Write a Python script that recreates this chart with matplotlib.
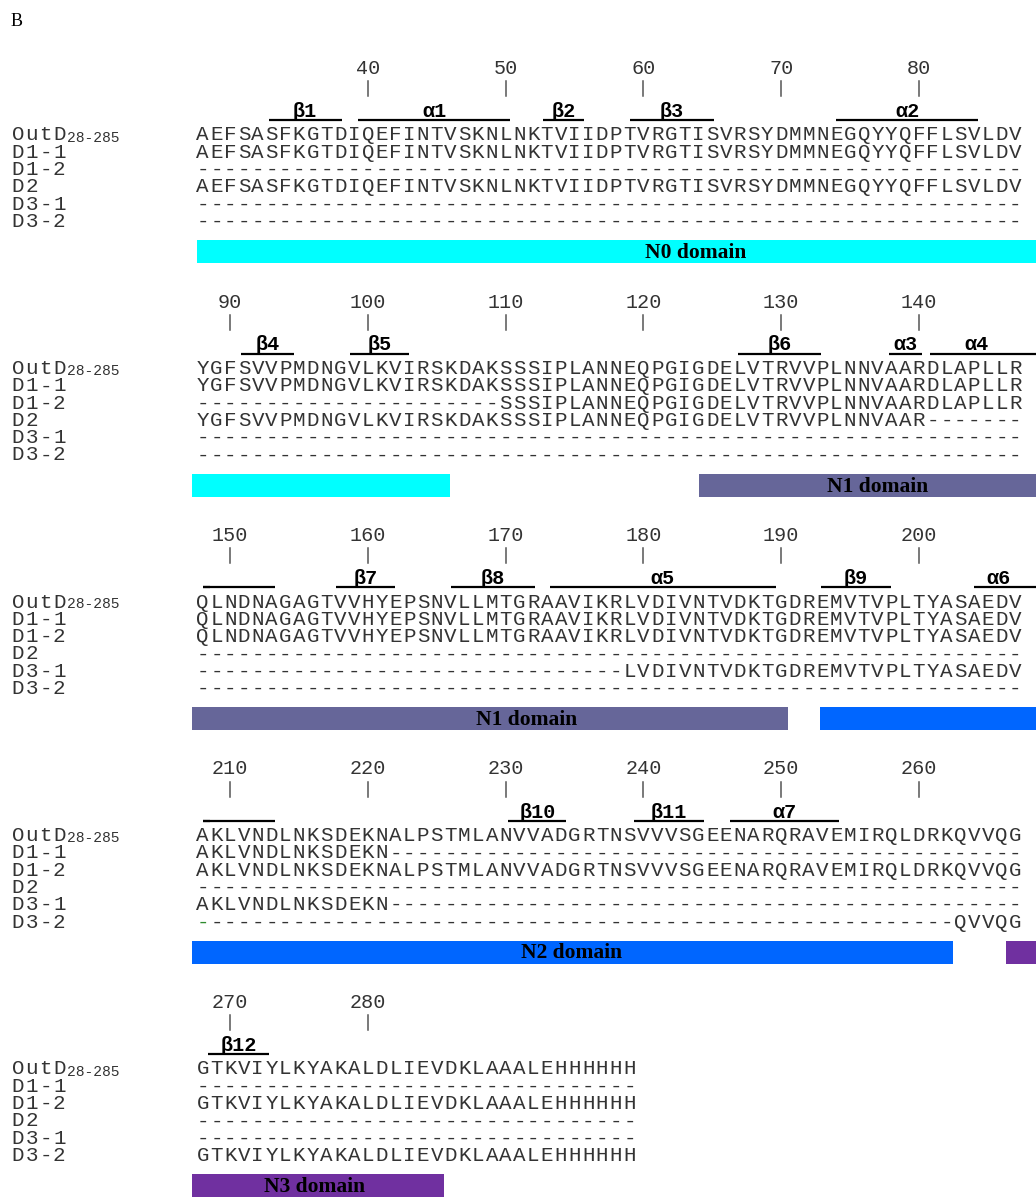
import matplotlib
matplotlib.use("Agg")
import matplotlib.pyplot as plt
from matplotlib.patches import Rectangle

# alignment data, one string of 60 (last block 32) columns per block
block_starts = [28, 88, 148, 208, 268]
row_names = ["OutD", "D1-1", "D1-2", "D2", "D3-1", "D3-2"]
tick_numbers = [40, 50, 60, 70, 80, 90, 100, 110, 120, 130, 140, 150, 160, 170,
                180, 190, 200, 210, 220, 230, 240, 250, 260, 270, 280]

outd = [
    "AEFSASFKGTDIQEFINTVSKNLNKTVIIDPTVRGTISVRSYDMMNEGQYYQFFLSVLDV",
    "YGFSVVPMDNGVLKVIRSKDAKSSSIPLANNEQPGIGDELVTRVVPLNNVAARDLAPLLR",
    "QLNDNAGAGTVVHYEPSNVLLMTGRAAVIKRLVDIVNTVDKTGDREMVTVPLTYASAEDV",
    "AKLVNDLNKSDEKNALPSTMLANVVADGRTNSVVVSGEENARQRAVEMIRQLDRKQVVQG",
    "GTKVIYLKYAKALDLIEVDKLAAALEHHHHHH",
]
d1_1 = [
    outd[0],
    outd[1],
    outd[2],
    "AKLVNDLNKSDEKN" + "-" * 46,
    "-" * 32,
]
d1_2 = [
    "-" * 60,
    "-" * 22 + "SSSIPLANNEQPGIGDELVTRVVPLNNVAARDLAPLLR",
    outd[2],
    outd[3],
    outd[4],
]
d2 = [
    outd[0],
    "YGFSVVPMDNGVLKVIRSKDAKSSSIPLANNEQPGIGDELVTRVVPLNNVAAR" + "-" * 7,
    "-" * 60,
    "-" * 60,
    "-" * 32,
]
d3_1 = [
    "-" * 60,
    "-" * 60,
    "-" * 31 + "LVDIVNTVDKTGDREMVTVPLTYASAEDV",
    "AKLVNDLNKSDEKN" + "-" * 46,
    "-" * 32,
]
d3_2 = [
    "-" * 60,
    "-" * 60,
    "-" * 60,
    "-" * 55 + "QVVQG",
    outd[4],
]
rows = [outd, d1_1, d1_2, d2, d3_1, d3_2]
green_marks = [("D3-2", 208)]

# secondary structure: label, start, end (residue positions)
ss_labels = ["β1", "α1", "β2", "β3", "α2", "β4", "β5", "β6", "α3", "α4",
             "", "β7", "β8", "α5", "β9", "α6", "", "β10", "β11", "α7", "β12"]
ss_start = [33.3, 39.8, 53.2, 59.5, 74.5, 91.3, 99.2, 127.4, 138.3, 141.3,
            148.5, 158.2, 166.5, 173.7, 193.4, 204.5, 208.4, 230.7, 239.8, 246.8, 268.9]
ss_end = [38.6, 50.8, 56.2, 65.6, 84.8, 95.1, 103.5, 133.4, 140.7, 149.0,
          153.75, 162.5, 172.6, 190.1, 198.5, 209.0, 213.75, 234.9, 244.9, 254.7, 273.3]

# domains: name, segments (start, end), colour
domain_names = ["N0", "N0", "N1", "N1", "N2", "N2", "N3", "N3"]
domain_start = [28.1, 87.7, 124.5, 148.1, 193.3, 207.7, 266.8, 268.2]
domain_end = [89.0, 106.45, 149.0, 191.0, 209.0, 263.0, 269.0, 286.0]
domain_colors = {"N0": "#00FFFF", "N1": "#666699", "N2": "#0066FF", "N3": "#7030A0"}
domain_label_text = ["N0 domain", "N1 domain", "N1 domain", "N2 domain", "N3 domain"]
domain_label_pos = [64.3, 137.5, 172.0, 235.3, 276.6]

MONO = ["Liberation Mono", "DejaVu Sans Mono"]
SERIF = ["Liberation Serif", "DejaVu Serif"]
TXT = "#333333"

fig = plt.figure(figsize=(10.36, 11.98), dpi=100)
ax = fig.add_axes([0, 0, 1, 1])
ax.set_xlim(-14.21, 61.0)   # columns within a block
ax.set_ylim(1198, 0)        # pixels down the page
ax.axis("off")

ax.text(-13.48, 22, "B", family=SERIF, fontsize=13, ha="left", va="center")

row_gap = 17.3
pitch = 233.5
for k, start in enumerate(block_starts):
    y0 = 134.0 + pitch * k
    n = len(outd[k])

    # ruler
    for num in tick_numbers:
        if not start <= num < start + n:
            continue
        c = num - start + 0.5
        ax.text(c, y0 - 60, str(num), family=MONO, fontsize=14.5, color=TXT,
                ha="center", va="baseline")
        ax.plot([c, c], [y0 - 53, y0 - 38], color="#555555", lw=1.1)

    # secondary structure bars
    for lab, s, e in zip(ss_labels, ss_start, ss_end):
        a = max(s, start + 0.5)
        b = min(e, start + 61)
        if b <= a or a >= start + n:
            continue
        ax.plot([a - start, b - start], [y0 - 13.7, y0 - 13.7], color="black", lw=1.6,
                solid_capstyle="butt")
        if lab and start <= s < start + n:
            mid = (a + min(e, start + 60)) / 2 - start
            ax.text(mid, y0 - 17, lab, family=MONO, fontsize=14.5, weight="bold",
                    ha="center", va="baseline")

    # sequences
    for i, (name, seqs) in enumerate(zip(row_names, rows)):
        y = y0 + i * row_gap
        for j, ch in enumerate(name):
            ax.text(-13.41 + j + 0.5, y + 6.5, ch, family=MONO, fontsize=15,
                    color=TXT, ha="center", va="baseline")
        if name == "OutD":
            ax.text(-13.41 + 4.05, y + 7.5, "28-285", family=MONO, fontsize=10.5,
                    color=TXT, ha="left", va="baseline")
        for j, ch in enumerate(seqs[k]):
            col = TXT
            if (name, start + j) in green_marks:
                col = "#2e8b2e"
            ax.text(j + 0.5, y + 6.5, ch, family=MONO, fontsize=15, color=col,
                    ha="center", va="baseline")

    # domain bars
    for dn, s, e in zip(domain_names, domain_start, domain_end):
        a = max(s, start - 0.3)
        b = min(e, start + 61)
        if b <= a:
            continue
        ax.add_patch(Rectangle((a - start, y0 + 106), b - a, 23,
                               facecolor=domain_colors[dn], edgecolor="none"))
    for txt, p in zip(domain_label_text, domain_label_pos):
        if start <= p < start + 61:
            ax.text(p - start, y0 + 124, txt, family=SERIF, fontsize=15.5,
                    weight="bold", ha="center", va="baseline")

fig.savefig("out.png", dpi=100)
